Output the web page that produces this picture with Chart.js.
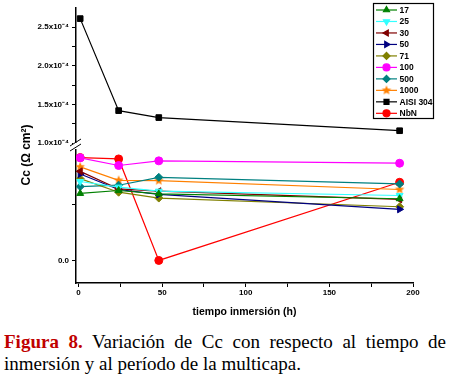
<!DOCTYPE html>
<html>
<head>
<meta charset="utf-8">
<script src="https://cdn.jsdelivr.net/npm/chart.js@4/dist/chart.umd.min.js"></script>
<style>
body { margin: 0; background: #fff; }
canvas { display: block; }
.cap { font-family: "Liberation Serif", "Times New Roman", serif; font-size: 19px; line-height: 22px; margin-left: 4px; width: 442px; color: #000; }
.l1 { text-align: justify; text-align-last: justify; margin-top: 13px; }
.fig { color: #c00000; font-weight: bold; }
</style>
</head>
<body>
<canvas id="c" width="450" height="318"></canvas>
<div class="cap l1"><span class="fig">Figura 8.</span> Variación de Cc con respecto al tiempo de</div>
<div class="cap">inmersión y al período de la multicapa.</div>
<script>
// tiempo de inmersion (h)
const times = [1, 24, 48, 192];

// lower (broken) axis, relative units, 0.0 = axis label
const s17   = [0.594, 0.62, 0.59, 0.547];
const s25   = [0.70, 0.65, 0.614, 0.576];
const s30   = [0.79, 0.634, 0.614, 0.541];
const s50   = [0.766, 0.629, 0.585, 0.453];
const s71   = [0.725, 0.605, 0.553, 0.476];
const s100  = [0.91, 0.842, 0.883, 0.862];
const s500  = [0.655, 0.667, 0.737, 0.678];
const s1000 = [0.83, 0.71, 0.708, 0.629];
const nbn   = [0.912, 0.90, 0.0, 0.693];
// upper axis, Ohm cm2
const aisi304 = [2.61e-4, 1.42e-4, 1.33e-4, 1.16e-4];

const xTicks = [0, 25, 50, 75, 100, 125, 150, 175, 200];
const topTicks = [1.0e-4, 1.25e-4, 1.5e-4, 1.75e-4, 2.0e-4, 2.25e-4, 2.5e-4];
const bottomTicks = [0, 0.5];

// filled five point star for the 1000 series
function makeStar(color, r) {
  const cv = document.createElement('canvas');
  cv.width = cv.height = r * 2 + 2;
  const g = cv.getContext('2d');
  g.fillStyle = color;
  g.beginPath();
  for (let i = 0; i < 10; i++) {
    const a = -Math.PI / 2 + i * Math.PI / 5;
    const rr = i % 2 ? r * 0.45 : r;
    g.lineTo(r + 1 + rr * Math.cos(a), r + 1 + rr * Math.sin(a));
  }
  g.closePath();
  g.fill();
  return cv;
}
const star = makeStar('#ff8000', 5);

function ds(label, data, color, style, rot, axis) {
  return {
    label, yAxisID: axis || 'yBot',
    data: times.map((t, i) => ({ x: t, y: data[i] })),
    borderColor: color, backgroundColor: color,
    pointStyle: style, pointRotation: rot || 0,
    pointRadius: 4, pointBorderWidth: 1, borderWidth: 1.2,
    tension: 0
  };
}

const datasets = [
  ds('17', s17, '#008000', 'triangle', 0),
  ds('25', s25, '#33ffff', 'triangle', 180),
  ds('30', s30, '#800000', 'triangle', -90),
  ds('50', s50, '#000080', 'triangle', 90),
  ds('71', s71, '#808000', 'rectRot', 0),
  ds('100', s100, '#ff00ff', 'circle', 0),
  ds('500', s500, '#008080', 'rectRot', 0),
  ds('1000', s1000, '#ff8000', star, 0),
  ds('AISI 304', aisi304, '#000000', 'rect', 0, 'yTop'),
  ds('NbN', nbn, '#ff0000', 'circle', 0)
];

const tickFont = { family: 'Liberation Sans', size: 8, weight: 'bold' };

const extras = {
  id: 'extras',
  afterDraw(chart) {
    const c = chart.ctx;
    c.save();
    // axis break
    c.fillStyle = '#fff';
    c.fillRect(73, 143, 6, 6);
    c.strokeStyle = '#000';
    c.lineWidth = 1;
    c.beginPath();
    c.moveTo(70, 146); c.lineTo(81, 139);
    c.moveTo(70, 151); c.lineTo(81, 144);
    c.stroke();
    // y title
    c.translate(27, 155);
    c.rotate(-Math.PI / 2);
    c.fillStyle = '#000';
    c.font = 'bold 12px "Liberation Sans"';
    c.textAlign = 'center';
    c.textBaseline = 'middle';
    c.fillText('Cc (\u03A9 cm\u00B2)', 0, 0);
    c.restore();
    // legend
    c.save();
    c.strokeStyle = '#000';
    c.lineWidth = 1.2;
    c.strokeRect(373.5, 3.5, 60, 115);
    c.font = 'bold 8.5px "Liberation Sans"';
    c.textAlign = 'left';
    c.textBaseline = 'middle';
    chart.data.datasets.forEach((d, i) => {
      const y = 10 + i * 11.48;
      c.strokeStyle = d.borderColor;
      c.lineWidth = 1.2;
      c.beginPath(); c.moveTo(376, y); c.lineTo(397, y); c.stroke();
      c.fillStyle = d.backgroundColor;
      Chart.helpers.drawPoint(c, { pointStyle: d.pointStyle, rotation: d.pointRotation, radius: 3.5, borderWidth: 1 }, 386.5, y);
      c.fillStyle = '#000';
      c.fillText(d.label, 399.5, y + 0.5);
    });
    c.restore();
  }
};

new Chart(document.getElementById('c').getContext('2d'), {
  type: 'line',
  data: { datasets },
  options: {
    responsive: false,
    animation: false,
    layout: { padding: { left: 0, top: 5, right: 37, bottom: 0 } },
    plugins: { legend: { display: false }, tooltip: { enabled: false } },
    scales: {
      x: {
        type: 'linear', min: -1.5, max: 200,
        afterBuildTicks: s => { s.ticks = xTicks.map(v => ({ value: v })); },
        ticks: { callback: v => (v % 50 === 0 ? v : ''), font: tickFont, color: '#000', maxRotation: 0, autoSkip: false, padding: 1 },
        grid: { drawOnChartArea: false, tickLength: 4, color: '#000' },
        border: { color: '#000', width: 1.5 },
        title: { display: true, text: 'tiempo inmersión (h)', color: '#000', font: { family: 'Liberation Sans', size: 10.5, weight: 'bold' }, padding: { top: 5, bottom: 0 } },
        afterFit: s => { s.height = 35; }
      },
      yBot: {
        type: 'linear', position: 'left', stack: 'y', min: -0.2, max: 1.02,
        afterBuildTicks: s => { s.ticks = bottomTicks.map(v => ({ value: v })); },
        ticks: { callback: v => (v === 0 ? '0.0' : ''), font: tickFont, color: '#000', padding: 3 },
        grid: { drawOnChartArea: false, tickLength: 4, color: '#000' },
        border: { color: '#000', width: 1.5 },
        afterFit: s => { s.width = 76; }
      },
      yTop: {
        type: 'linear', position: 'left', stack: 'y', min: 0.97e-4, max: 2.75e-4,
        afterBuildTicks: s => { s.ticks = topTicks.map(v => ({ value: v })); },
        ticks: {
          callback: v => (Math.round(v * 1e5) % 5 === 0 ? (v * 1e4).toFixed(1) + 'x10\u207B\u2074' : ''),
          font: tickFont, color: '#000', padding: 3
        },
        grid: { drawOnChartArea: false, tickLength: 4, color: '#000' },
        border: { color: '#000', width: 1.5 },
        afterFit: s => { s.width = 76; }
      }
    }
  },
  plugins: [extras]
});
</script>
</body>
</html>
